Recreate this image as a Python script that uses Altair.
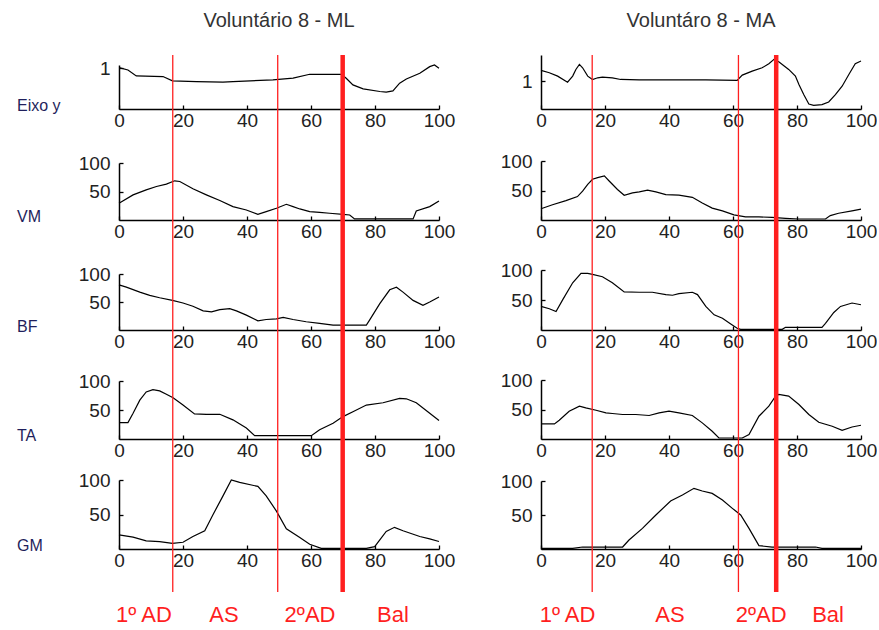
import altair as alt
import pandas as pd

# ---------------- data ----------------
X_TICKS = [0, 20, 40, 60, 80, 100]
ROW_NAMES = ["Eixo y", "VM", "BF", "TA", "GM"]
PHASE_NAMES = ["1º AD", "AS", "2ºAD", "Bal"]
TITLES = ["Voluntário 8 - ML", "Voluntáro 8 - MA"]

ml_phase_bounds = [16.8, 49.6, 69.9]
ma_phase_bounds = [16.0, 61.7, 73.5]
ml_phase_label_x = [7.8, 32.8, 59.7, 85.6]
ma_phase_label_x = [8.3, 40.3, 68.8, 89.7]

eixo_y_ticks = [1]
emg_y_ticks = [50, 100]
ml_eixo_domain = [0.5, 1.04]
ma_eixo_domain = [0.5, 1.469]
emg_domain = [0, 100]

# ML (left column)
ml_eixo_x = [0, 2.8, 5.4, 13.75, 16.7, 24.2, 32.5, 35.6, 48.1, 54.4, 59.6, 69.5, 71, 73.1, 76.3,
             81.5, 83.5, 85.6, 87.7, 89.8, 94, 97.1, 98.6, 100]
ml_eixo_y = [1.007, 0.979, 0.906, 0.898, 0.845, 0.837, 0.829, 0.837, 0.857, 0.878, 0.926, 0.926,
             0.878, 0.796, 0.748, 0.715, 0.707, 0.723, 0.817, 0.869, 0.938, 1.02, 1.04, 1.0]

ml_vm_x = [0, 4.4, 8.5, 11.7, 14.8, 17.4, 19, 23.1, 27.3, 31.5, 35.6, 39.8, 43.4, 46, 49.2, 52.3,
           54.4, 56.5, 59.6, 62.7, 65.8, 70, 72.1, 73.6, 82.5, 91.9, 92.9, 97.1, 100]
ml_vm_y = [29.4, 44.1, 52.9, 58.8, 62.9, 68.8, 67.6, 54.7, 44.1, 34.1, 23.5, 17.6, 10, 14.7, 20.6,
           27.6, 23.5, 19.4, 14.7, 13.5, 11.8, 10, 8.8, 1.8, 1.8, 1.8, 15.9, 23.5, 33.5]

ml_bf_x = [0, 2.3, 6.5, 9.6, 12.7, 16.7, 20, 23.1, 26.3, 28.9, 31.5, 34.6, 36.7, 39.8, 43.4, 46,
           49.2, 51.3, 54.4, 58.5, 62.7, 66.9, 70, 77.3, 78.3, 81.5, 84.6, 86.7, 88.75, 91.9, 95,
           97.1, 100]
ml_bf_y = [80.6, 76.5, 67.6, 61.8, 57.6, 52.9, 48.2, 42.4, 34.1, 32.4, 36.5, 38.2, 34.1, 26.5,
           16.5, 18.8, 20, 22.4, 18.8, 14.7, 11.8, 8.8, 8.8, 8.8, 17.6, 47, 71.8, 76.5, 67.6,
           52.9, 44.1, 50, 58.8]

ml_ta_x = [0, 2.8, 4.4, 6.5, 8.5, 10.6, 12.7, 14.8, 16.9, 20, 23.6, 27.3, 31.5, 35.6, 39.8, 42.4,
           46, 53.3, 60.1, 62.7, 66.9, 70, 73.1, 77.3, 82.5, 87.7, 89.8, 92.9, 97.1, 100]
ml_ta_y = [28.4, 28.4, 44.3, 67, 81.2, 85.2, 82.9, 77.3, 71, 58.5, 43.2, 42.6, 42.6, 33, 18.8,
           5.7, 5.7, 5.7, 5.7, 15.9, 27.3, 38.6, 47.1, 58.5, 62.5, 69.9, 69.3, 62.5, 44.3, 31.8]

ml_gm_x = [0, 4.4, 8.5, 12.7, 16.7, 20, 23.1, 26.8, 29.4, 32.5, 35.1, 37.7, 43.4, 46, 49.2, 52.3,
           56.5, 59.6, 63.2, 66.9, 77.3, 79.9, 83.5, 86.1, 88.75, 94, 97.1, 100]
ml_gm_y = [20.6, 17.2, 11.8, 10.8, 8.3, 9.8, 18.1, 26.5, 50, 77, 100, 96.6, 90.7, 77, 54.9, 29.4,
           16.7, 6.9, 1, 1, 1, 3.4, 25.5, 31.4, 26.5, 18.1, 14.7, 10.8]

# MA (right column)
ma_eixo_x = [0, 2.6, 5.2, 8.3, 9.9, 10.9, 12, 13, 14.6, 16.1, 17.7, 19.2, 22.3, 24.9, 30.7, 41.1,
             51.5, 61.3, 62.9, 66, 69.1, 71.2, 72.8, 74.3, 77.4, 79.5, 80.6, 82.1, 83.7, 85.2,
             87.8, 89.9, 92, 94.1, 96.2, 98.2, 100]
ma_eixo_y = [1.192, 1.150, 1.090, 0.982, 1.090, 1.210, 1.301, 1.240, 1.090, 1.030, 1.060, 1.072,
             1.060, 1.030, 1.024, 1.024, 1.024, 1.012, 1.108, 1.180, 1.240, 1.313, 1.391, 1.349,
             1.210, 1.090, 0.939, 0.759, 0.590, 0.566, 0.578, 0.626, 0.759, 0.909, 1.120, 1.313,
             1.361]

ma_vm_x = [0, 3.6, 7.8, 11.4, 13, 14.6, 16.1, 17.7, 19.8, 21.3, 23.9, 26, 28.6, 30.7, 33.3, 35.9,
           39, 43.1, 47.3, 50.4, 53.5, 56.7, 60.3, 63.9, 68.1, 72.2, 76.4, 80.6, 88.9, 90.4, 93,
           97.2, 100]
ma_vm_y = [19, 25.9, 32.8, 39.7, 48.9, 60.3, 69, 71.8, 74.7, 66.1, 51.7, 42, 46, 47.7, 50.6, 47.7,
           43.1, 42, 38.5, 28.7, 20.1, 15.5, 8.6, 5.2, 5.2, 4.6, 2.9, 1.7, 1.7, 7.5, 11.5, 15.5,
           18.4]

ma_bf_x = [0, 2.6, 4.7, 6.8, 9.9, 12.5, 14.6, 16.1, 19.2, 22.3, 26, 30.7, 34.8, 39, 41.1, 43.1,
           47.3, 48.9, 51.5, 54.1, 56.7, 59.3, 61.3, 62.4, 68.1, 75.4, 76.4, 80.6, 87.8, 88.9,
           91.5, 93.6, 97.2, 100]
ma_bf_y = [39.3, 35.4, 30.9, 50.6, 78.7, 94.4, 94.4, 92.7, 88.8, 78.7, 63.5, 62.9, 62.9, 59, 57.9,
           60.7, 62.9, 59, 39.3, 25.3, 19.7, 10.1, 2.8, 1.1, 1.1, 1.1, 4.5, 4.5, 4.5, 11.2, 29.2,
           39.3, 45, 42.1]

ma_ta_x = [0, 4.2, 5.7, 8.8, 12, 14, 17.2, 20.3, 22.3, 25.5, 29.6, 33.8, 36.9, 40, 43.1, 47.3,
           50.4, 53.5, 55.6, 59.8, 62.9, 65, 68.1, 71.2, 73.3, 74.3, 77.4, 80.6, 83.7, 86.8, 91,
           94.1, 97.2, 100]
ma_ta_y = [25.6, 25.6, 31.8, 47.1, 55.7, 52.8, 48.8, 44.3, 43.2, 41.5, 41.5, 39.8, 44.3, 47.1,
           44.3, 39.8, 27.3, 13.1, 1.7, 1.7, 1.7, 7.4, 38.6, 55.7, 72.7, 75.5, 72.7, 58.5, 41.5,
           28.4, 21.6, 14.8, 20.4, 23.3]

ma_gm_x = [0, 9.9, 13, 17.2, 25.5, 27.5, 31.7, 35.9, 40.5, 44.2, 47.8, 50.4, 53.5, 56.7, 59.8,
           62.4, 65, 68.1, 72.2, 77.4, 85.8, 87.8, 100]
ma_gm_y = [1, 1, 2.9, 2.9, 2.9, 13.2, 30.4, 50, 70.6, 79.4, 89.2, 85.3, 81.8, 72, 59.8, 50, 30.4,
           4.9, 2.9, 2.9, 2.9, 1, 1]

# ---------------- style / layout ----------------
FONT = "Liberation Sans"
RED = "#ff1f1f"
NAVY = "#1f1f5c"
SLOT_H = [54, 111, 110, 109, 110]
AXIS_H_ML = [44, 57, 56, 58, 69]
AXIS_H_MA = [54, 59, 60, 59, 68]
RULE_W = [1.3, 1.3, 4.5]


def panel(xs, ys, slot_h, axis_h, ydom, yticks, bounds, row_name=None,
          last=False, label_x=None, title=None):
    df = pd.DataFrame({"t": xs, "v": ys})
    x_axis = alt.Axis(values=X_TICKS, tickSize={"expr": "-4"}, tickWidth=1.3,
                      tickColor="black", domainColor="black", domainWidth=1.5,
                      labelPadding=6.5, labelFlush=False, labelOverlap=False,
                      labelFont=FONT, labelFontSize=19, labelColor="#222222",
                      grid=False, title=None)
    ykw = dict(values=yticks, tickSize={"expr": "-4"}, tickWidth=1.3, tickColor="black",
               domainColor="black", domainWidth=1.5, labelPadding=13, format="d",
               labelFont=FONT, labelFontSize=19, labelColor="#222222",
               labelOverlap=False, grid=False)
    if row_name:
        ykw.update(title=row_name, titleAngle=0, titleAlign="left",
                   titleBaseline="alphabetic", titleX=-102.5, titleY=slot_h + 1,
                   titleFont=FONT, titleFontSize=16, titleFontWeight="normal",
                   titleColor=NAVY)
    else:
        ykw["title"] = None
    xs_scale = alt.Scale(domain=[0, 100], nice=False, zero=False)
    ys_scale = alt.Scale(domain=ydom, range=[slot_h, slot_h - axis_h], nice=False, zero=False)
    x_enc = alt.X("t:Q", scale=xs_scale, axis=x_axis)
    line = alt.Chart(df).mark_line(color="black", strokeWidth=1.2).encode(
        x=x_enc,
        y=alt.Y("v:Q", scale=ys_scale, axis=alt.Axis(**ykw)),
    )
    rdf = pd.DataFrame({"t": bounds, "w": RULE_W})
    rules = alt.Chart(rdf).mark_rule(color=RED).encode(
        x=x_enc,
        y=alt.value(0),
        y2=alt.value(slot_h + (43 if last else 0)),
        strokeWidth=alt.StrokeWidth("w:Q", scale=None, legend=None),
    )
    layers = [line, rules]
    if last:
        ldf = pd.DataFrame({"t": label_x, "name": PHASE_NAMES})
        layers.append(
            alt.Chart(ldf).mark_text(color=RED, font=FONT, fontSize=22,
                                     baseline="alphabetic", align="center").encode(
                x=x_enc,
                y=alt.value(slot_h + 73),
                text="name:N",
            )
        )
    ch = alt.layer(*layers).properties(width=320, height=slot_h)
    if title:
        ch = ch.properties(title=alt.TitleParams(
            text=title, font=FONT, fontSize=20, fontWeight="normal", color="#333333",
            anchor="middle", frame="group", baseline="bottom", offset=2))
    return ch


ml_data = [(ml_eixo_x, ml_eixo_y), (ml_vm_x, ml_vm_y), (ml_bf_x, ml_bf_y),
           (ml_ta_x, ml_ta_y), (ml_gm_x, ml_gm_y)]
ma_data = [(ma_eixo_x, ma_eixo_y), (ma_vm_x, ma_vm_y), (ma_bf_x, ma_bf_y),
           (ma_ta_x, ma_ta_y), (ma_gm_x, ma_gm_y)]

charts = []
for i in range(5):
    ydom_ml = ml_eixo_domain if i == 0 else emg_domain
    ydom_ma = ma_eixo_domain if i == 0 else emg_domain
    yt = eixo_y_ticks if i == 0 else emg_y_ticks
    charts.append(panel(ml_data[i][0], ml_data[i][1], SLOT_H[i], AXIS_H_ML[i], ydom_ml, yt,
                        ml_phase_bounds, row_name=ROW_NAMES[i], last=(i == 4),
                        label_x=ml_phase_label_x, title=TITLES[0] if i == 0 else None))
    charts.append(panel(ma_data[i][0], ma_data[i][1], SLOT_H[i], AXIS_H_MA[i], ydom_ma, yt,
                        ma_phase_bounds, row_name=None, last=(i == 4),
                        label_x=ma_phase_label_x, title=TITLES[1] if i == 0 else None))

chart = alt.concat(*charts, columns=2, spacing={"row": 0, "column": 102},
                   bounds="flush").properties(
    padding={"left": 16, "top": 10, "right": 0, "bottom": 0},
    background="white",
).configure_view(strokeWidth=0)

chart.save("out.html", embed_options={"renderer": "svg", "actions": False})
